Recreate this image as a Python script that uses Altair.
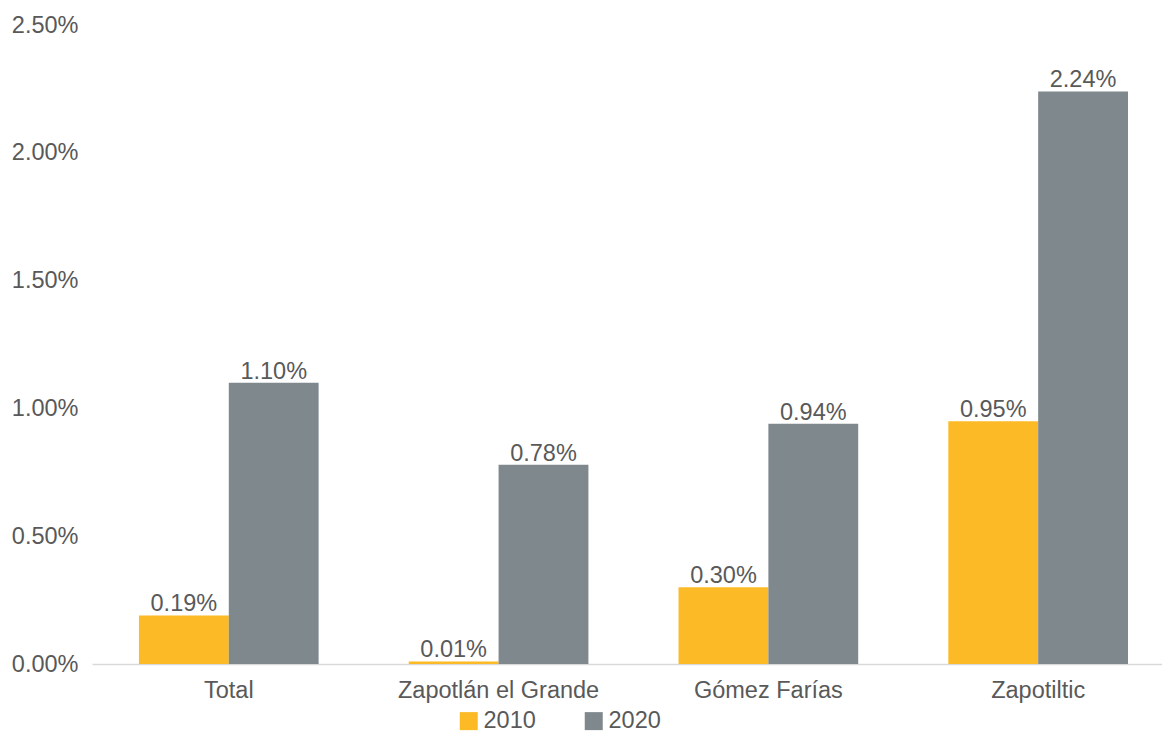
import altair as alt
import pandas as pd

categories = ["Total", "Zapotlán el Grande", "Gómez Farías", "Zapotiltic"]
years = ["2010", "2020"]
values_2010 = [0.0019, 0.0001, 0.0030, 0.0095]
values_2020 = [0.0110, 0.0078, 0.0094, 0.0224]
y_ticks = [0, 0.005, 0.01, 0.015, 0.02, 0.025]
colors = ["#FBBA26", "#7F888D"]

rows = []
for c, a, b in zip(categories, values_2010, values_2020):
    rows.append({"cat": c, "year": "2010", "val": a})
    rows.append({"cat": c, "year": "2020", "val": b})
df = pd.DataFrame(rows)

FONT = "Liberation Sans"
FS = 23.5
TXT = "#595959"

base = alt.Chart(df).encode(
    x=alt.X("cat:N", sort=categories, title=None,
            scale=alt.Scale(paddingInner=0.334, paddingOuter=0.15, align=0.58),
            axis=alt.Axis(labelAngle=0, labelFontSize=FS, labelFont=FONT, labelColor=TXT,
                          labelPadding=14, labelLimit=400, ticks=False,
                          domainColor="#D9D9D9", domainWidth=1.5)),
    xOffset=alt.XOffset("year:N", sort=years),
    y=alt.Y("val:Q", title=None,
            scale=alt.Scale(domain=[0, 0.025], nice=False),
            axis=alt.Axis(values=y_ticks, format=".2%", labelFontSize=FS, labelFont=FONT,
                          labelColor=TXT, labelPadding=14, ticks=False, domain=False, grid=False)),
)

bars = base.mark_bar().encode(
    color=alt.Color("year:N", sort=years, scale=alt.Scale(domain=years, range=colors),
                    legend=alt.Legend(title=None, orient="none", legendX=365, legendY=684,
                                      direction="horizontal", symbolType="square", symbolSize=324,
                                      symbolStrokeWidth=0, labelFontSize=FS, labelFont=FONT,
                                      labelColor=TXT, labelOffset=3, columnPadding=46))
)

labels = base.mark_text(baseline="alphabetic", dy=-4, fontSize=FS, font=FONT, color=TXT).encode(
    text=alt.Text("val:Q", format=".2%")
)

chart = (bars + labels).properties(
    width=1070, height=639,
    background="white",
    autosize=alt.AutoSizeParams(type="none"),
    padding={"left": 84, "top": 17, "right": 0, "bottom": 69},
).configure_view(strokeWidth=0, stroke=None)

chart.save("out.html", embed_options={"renderer": "svg", "actions": False})
